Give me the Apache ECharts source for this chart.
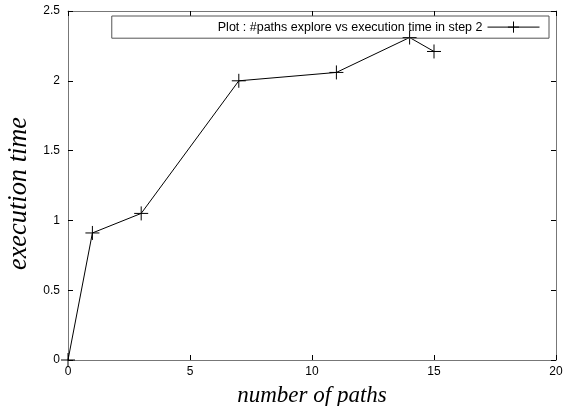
<!DOCTYPE html>
<html><head><meta charset="utf-8">
<script src="https://cdn.jsdelivr.net/npm/echarts@6/dist/echarts.min.js"></script>
<style>html,body{margin:0;padding:0;background:#fff}#c{width:564px;height:406px}</style>
</head><body><div id="c"></div>
<script>
const xValues = [0, 1, 3, 7, 11, 14, 15];
const yValues = [0, 0.91, 1.05, 2.0, 2.06, 2.31, 2.21];
const seriesName = 'Plot : #paths explore vs execution time in step 2';
const xTitle = 'number of paths';
const yTitle = 'execution time';

const plus = 'path://M0,7L14,7M7,0L7,14';
const chart = echarts.init(document.getElementById('c'), null, {renderer: 'canvas'});
function tk() { return {show: true, inside: true, length: 5, lineStyle: {color: '#000', width: 1}}; }
function al() { return {show: true, onZero: false, lineStyle: {color: '#777', width: 1}}; }
function lb(m) { return {color: '#000', fontFamily: 'Liberation Sans', fontSize: 12, margin: m}; }
chart.setOption({
  animation: false,
  grid: {left: 68, right: 8, top: 11, bottom: 46, containLabel: false, outerBoundsMode: 'none'},
  legend: {
    data: [seriesName], right: 15, top: 16, orient: 'horizontal', align: 'right',
    borderColor: '#555', borderWidth: 1, borderRadius: 0,
    padding: [3, 9, 3, 106], itemWidth: 52, itemHeight: 14, itemGap: 5,
    lineStyle: {width: 1, color: '#000'},
    itemStyle: {color: 'none', borderColor: '#000', borderWidth: 1},
    textStyle: {color: '#000', fontFamily: 'Liberation Sans', fontSize: 12.5}
  },
  xAxis: [
    {type: 'value', min: 0, max: 20, interval: 5, position: 'bottom',
     name: xTitle, nameLocation: 'middle', nameGap: 24,
     nameTextStyle: {fontFamily: 'Liberation Serif', fontStyle: 'italic', fontSize: 23, color: '#000'},
     axisLine: al(), axisTick: tk(), axisLabel: lb(6), splitLine: {show: false}},
    {type: 'value', min: 0, max: 20, interval: 5, position: 'top',
     axisLine: al(), axisTick: tk(), axisLabel: {show: false}, splitLine: {show: false}}
  ],
  yAxis: [
    {type: 'value', min: 0, max: 2.5, interval: 0.5, position: 'left',
     name: yTitle, nameLocation: 'middle', nameGap: 28,
     nameTextStyle: {fontFamily: 'Liberation Serif', fontStyle: 'italic', fontSize: 26.4, color: '#000', padding: [0, 16, 0, 0]},
     axisLine: al(), axisTick: tk(), axisLabel: lb(8), splitLine: {show: false}},
    {type: 'value', min: 0, max: 2.5, interval: 0.5, position: 'right',
     axisLine: al(), axisTick: tk(), axisLabel: {show: false}, splitLine: {show: false}}
  ],
  series: [{
    name: seriesName, type: 'line',
    data: xValues.map((x, i) => [x, yValues[i]]),
    symbol: plus, symbolSize: 14, showAllSymbol: true,
    lineStyle: {color: '#000', width: 1},
    itemStyle: {color: 'none', borderColor: '#000', borderWidth: 1}
  }]
});
</script></body></html>
